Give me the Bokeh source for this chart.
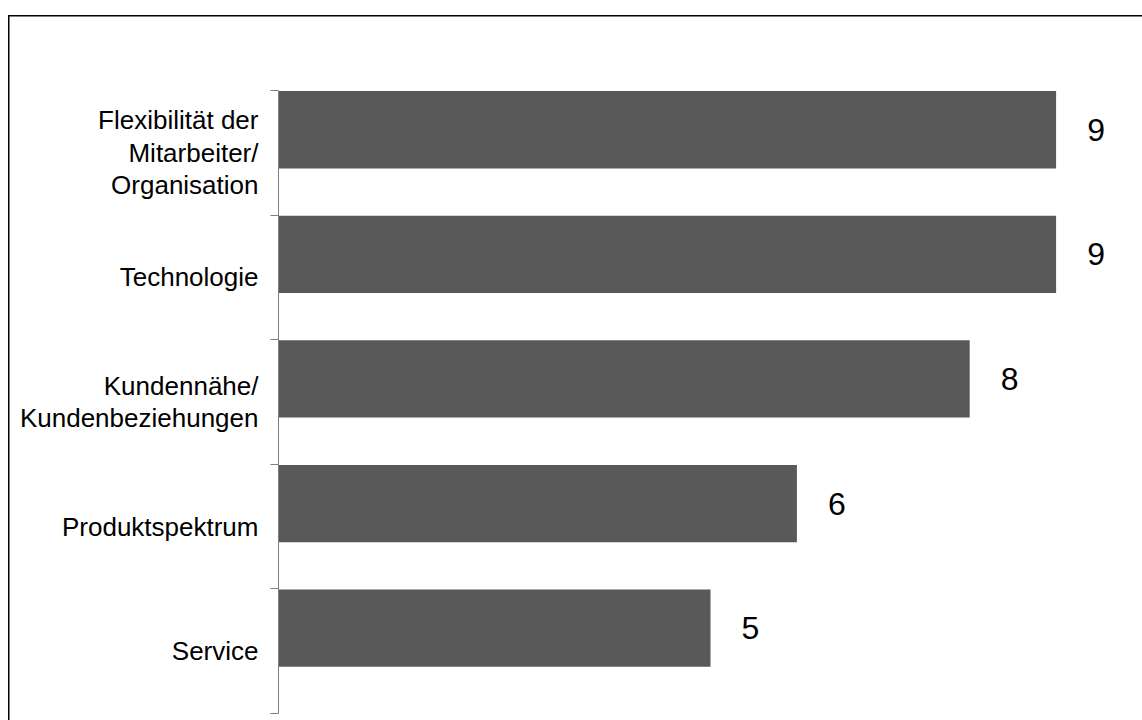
from bokeh.plotting import figure
from bokeh.models import Range1d, FixedTicker, ColumnDataSource, InlineStyleSheet
from bokeh.core.properties import value
from bokeh.embed import file_html
from bokeh.resources import INLINE

# ---- data ----
categories = [
    "Flexibilität der\nMitarbeiter/\nOrganisation",
    "Technologie",
    "Kundennähe/\nKundenbeziehungen",
    "Produktspektrum",
    "Service",
]
values = [9, 9, 8, 6, 5]
value_labels = ["9", "9", "8", "6", "5"]

n = len(categories)
centers = [n - i - 0.5 for i in range(n)]          # band centres, top to bottom
boundaries = [float(k) for k in range(n + 1)]       # band edges (tick marks)
bar_y = [c + 0.185 for c in centers]                # bars sit in upper part of band

FONT = "Liberation Sans"
AXIS_GRAY = "#7f7f7f"
BAR_COLOR = "#595959"

p = figure(
    width=1142, height=720,
    x_range=Range1d(0, 10), y_range=Range1d(0, n),
    x_axis_location=None,
    toolbar_location=None, output_backend="svg",
    min_border_left=278, min_border_right=0,
    min_border_top=90, min_border_bottom=7,
)
p.outline_line_color = None
p.xgrid.visible = False
p.ygrid.visible = False
p.background_fill_color = "white"
p.border_fill_color = None   # transparent, so the host's frame lines show

src = ColumnDataSource(dict(y=bar_y, v=values, t=value_labels))
p.hbar(y="y", left=0, right="v", height=0.62, source=src,
       fill_color=BAR_COLOR, line_color=None)
p.text(x="v", y="y", text="t", source=src, x_offset=40,
       text_align="center", text_baseline="middle",
       text_font=value(FONT), text_font_size="32px", text_color="black")

ax = p.yaxis[0]
ax.ticker = FixedTicker(ticks=centers, minor_ticks=boundaries)
ax.major_label_overrides = {c: lab for c, lab in zip(centers, categories)}
ax.major_tick_out = 0
ax.major_tick_in = 0
ax.major_tick_line_color = None
ax.minor_tick_out = 8
ax.minor_tick_in = 0
ax.minor_tick_line_color = AXIS_GRAY
ax.axis_line_color = AXIS_GRAY
ax.axis_line_width = 1
ax.major_label_standoff = 12
ax.major_label_text_font = FONT
ax.major_label_text_font_size = "26px"
ax.major_label_text_color = "black"
ax.major_label_text_line_height = 1.08

# chart-area border (left and top edges only; right/bottom run off the page)
p.stylesheets = [InlineStyleSheet(css="""
:host {
  background:
    linear-gradient(#000, #000) 8px 15px / 1.5px 100% no-repeat,
    linear-gradient(#000, #000) 8px 15px / 100% 1.5px no-repeat,
    #fff;
}
""")]

open("out.html", "w").write(file_html(p, INLINE))
